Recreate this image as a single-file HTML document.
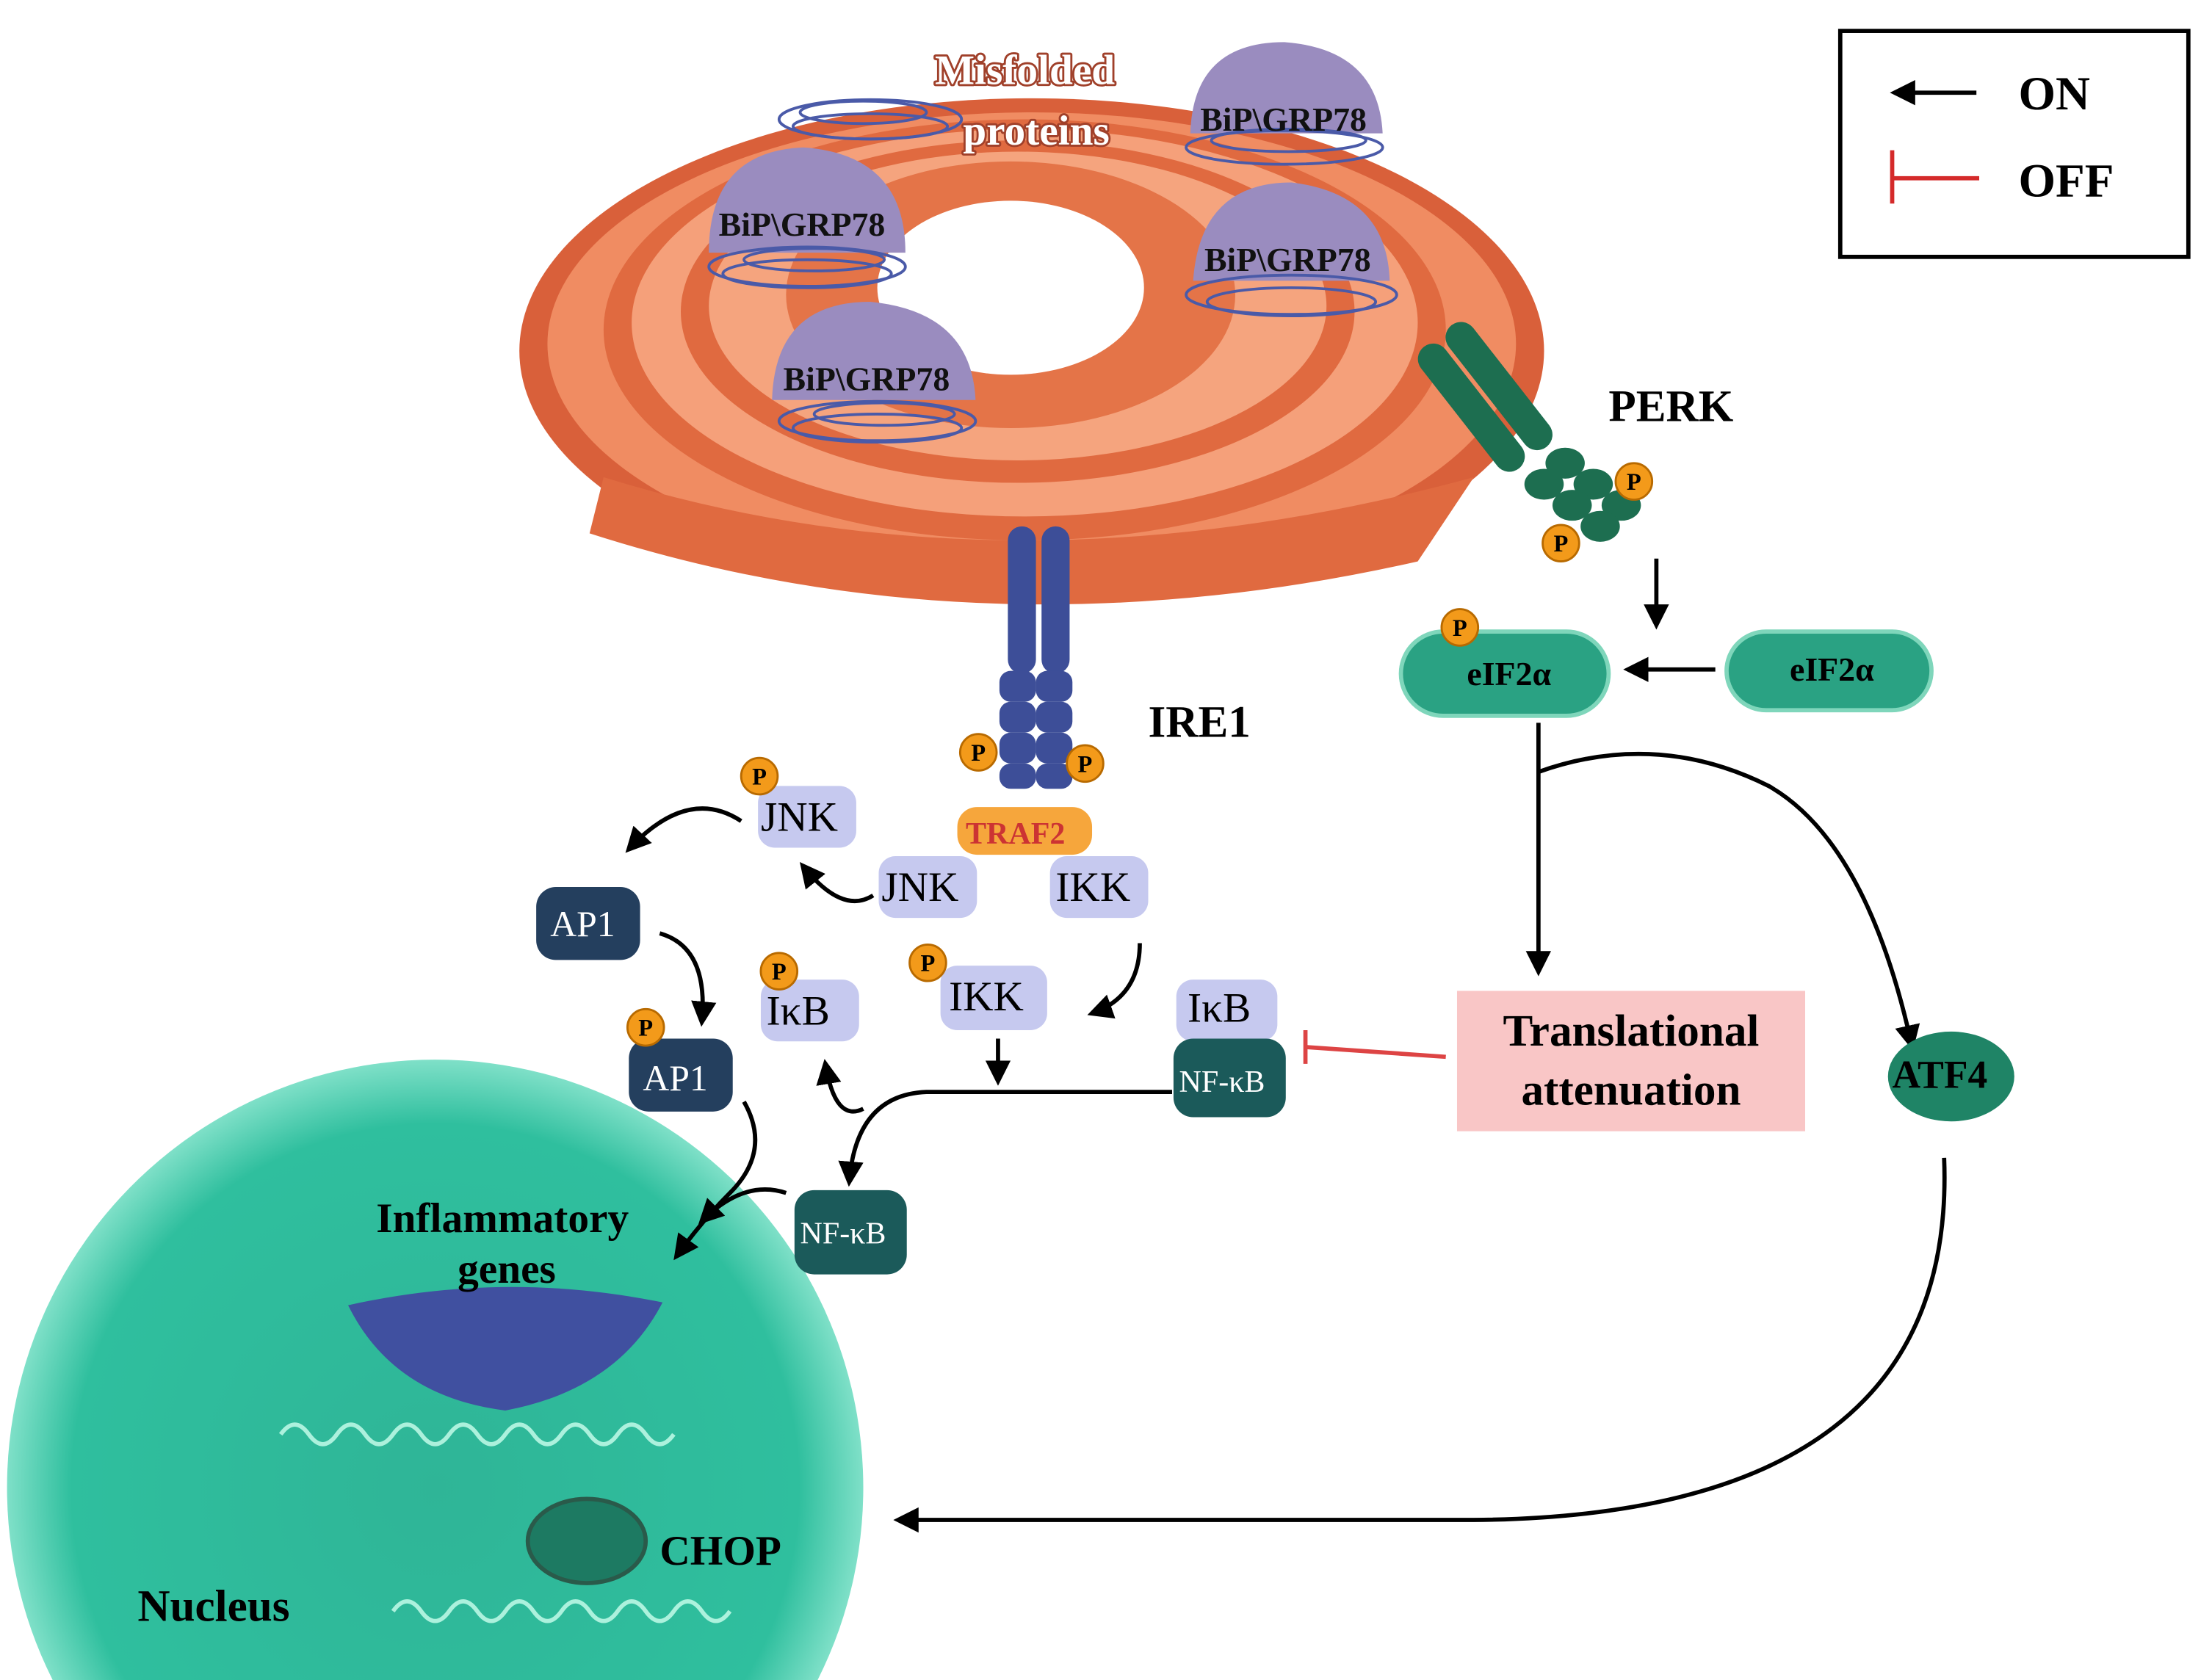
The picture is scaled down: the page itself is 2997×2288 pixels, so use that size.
<!DOCTYPE html>
<html><head><meta charset="utf-8"><style>
html,body{margin:0;padding:0;background:#fff;overflow:hidden;width:2997px;height:2288px;}
svg{display:block;overflow:hidden;}
text{font-family:"Liberation Serif",serif;}
</style></head><body>
<svg width="2997" height="2288" viewBox="0 0 1568 1197" overflow="hidden" xmlns="http://www.w3.org/2000/svg">
<defs>
<radialGradient id="nuc" gradientUnits="userSpaceOnUse" cx="310" cy="1060" r="305">
<stop offset="0%" stop-color="#2fb597"/><stop offset="85%" stop-color="#2fbf9e"/><stop offset="100%" stop-color="#7fe0c8"/>
</radialGradient>
<marker id="ah" viewBox="0 0 10 10" refX="8" refY="5" markerWidth="6" markerHeight="6" orient="auto"><path d="M0,0L10,5L0,10z" fill="#000"/></marker>
</defs>
<rect width="1568" height="1197" fill="#fff"/>

<!-- ER -->
<g>
<ellipse cx="735" cy="250" rx="365" ry="180" fill="#d9603a"/>
<ellipse cx="735" cy="245" rx="345" ry="165" fill="#f08c62"/>
<ellipse cx="730" cy="235" rx="300" ry="150" fill="#e06a40"/>
<ellipse cx="730" cy="230" rx="280" ry="138" fill="#f5a07a"/>
<ellipse cx="725" cy="222" rx="240" ry="122" fill="#e06a40"/>
<ellipse cx="725" cy="218" rx="220" ry="110" fill="#f5a47e"/>
<ellipse cx="720" cy="210" rx="160" ry="95" fill="#e47448"/>
<ellipse cx="720" cy="205" rx="95" ry="62" fill="#fff"/>
<path d="M420,380 Q700,470 1010,400 L1050,340 Q720,430 430,340z" fill="#e06a40"/>
</g>

<!-- BiP -->
<g>
<path d="M505,180 Q505,108 572,105 Q645,110 645,180z" fill="#9a8cbf"/>
<path d="M550,285 Q552,215 620,215 Q692,222 695,285z" fill="#9a8cbf"/>
<path d="M848,95 Q850,30 915,30 Q982,35 985,95z" fill="#9a8cbf"/>
<path d="M850,200 Q855,130 920,130 Q988,138 990,200z" fill="#9a8cbf"/>
</g>
<g fill="none" stroke="#4a5aa8" stroke-width="2">
<ellipse cx="575" cy="190" rx="70" ry="14"/><ellipse cx="575" cy="195" rx="60" ry="10"/><ellipse cx="580" cy="185" rx="50" ry="8"/>
<ellipse cx="625" cy="300" rx="70" ry="14"/><ellipse cx="625" cy="305" rx="60" ry="10"/><ellipse cx="630" cy="295" rx="50" ry="8"/>
<ellipse cx="915" cy="105" rx="70" ry="12"/><ellipse cx="918" cy="100" rx="55" ry="8"/>
<ellipse cx="920" cy="210" rx="75" ry="14"/><ellipse cx="920" cy="215" rx="60" ry="10"/>
<ellipse cx="620" cy="85" rx="65" ry="14"/><ellipse cx="620" cy="90" rx="55" ry="9"/><ellipse cx="615" cy="80" rx="45" ry="8"/>
</g>
<g font-weight="bold" font-size="24" fill="#111">
<text x="512" y="168">BiP\GRP78</text>
<text x="558" y="278">BiP\GRP78</text>
<text x="855" y="93">BiP\GRP78</text>
<text x="858" y="193">BiP\GRP78</text>
</g>
<g font-weight="bold" font-size="30" fill="#fff" stroke="#a0402a" stroke-width="3" paint-order="stroke" stroke-linejoin="round">
<text x="666" y="60">Misfolded</text><text x="686" y="103">proteins</text>
</g>

<!-- Legend -->
<rect x="1311" y="22" width="248" height="161" fill="#fff" stroke="#000" stroke-width="3"/>
<line x1="1408" y1="66" x2="1350" y2="66" stroke="#000" stroke-width="3" marker-end="url(#ah)"/>
<text x="1438" y="78" font-size="34" font-weight="bold">ON</text>
<line x1="1348" y1="127" x2="1410" y2="127" stroke="#d42a2a" stroke-width="3"/><line x1="1348" y1="107" x2="1348" y2="145" stroke="#d42a2a" stroke-width="3"/>
<text x="1438" y="140" font-size="34" font-weight="bold">OFF</text>

<!-- Nucleus -->
<path d="M37.5,1197 A305,305 0 1 1 582.5,1197 Z" fill="url(#nuc)"/>
<path d="M248,930 Q360,905 472,928 Q440,990 360,1005 Q280,995 248,930z" fill="#4050a0"/>
<g stroke="#cfe" stroke-width="3" fill="none" opacity="0.8">
<path d="M200,1022 q10,-14 20,0 t20,0 t20,0 t20,0 t20,0 t20,0 t20,0 t20,0 t20,0 t20,0 t20,0 t20,0 t20,0 t20,0"/>
<path d="M280,1148 q10,-14 20,0 t20,0 t20,0 t20,0 t20,0 t20,0 t20,0 t20,0 t20,0 t20,0 t20,0 t20,0"/>
</g>
<ellipse cx="418" cy="1098" rx="42" ry="30" fill="#1d7a62" stroke="#2a5a4a" stroke-width="3"/>
<text x="470" y="1115" font-size="30" font-weight="bold">CHOP</text>
<text x="98" y="1155" font-size="32" font-weight="bold">Nucleus</text>
<text x="268" y="878" font-size="30" font-weight="bold">Inflammatory</text>
<text x="326" y="914" font-size="30" font-weight="bold">genes</text>

<!-- IRE1 -->
<rect x="718" y="375" width="20" height="105" rx="10" fill="#3d4e98"/>
<rect x="742" y="375" width="20" height="105" rx="10" fill="#3d4e98"/>
<g fill="#3d4e98">
<rect x="712" y="478" width="26" height="22" rx="8"/><rect x="738" y="478" width="26" height="22" rx="8"/>
<rect x="712" y="500" width="26" height="22" rx="8"/><rect x="738" y="500" width="26" height="22" rx="8"/>
<rect x="712" y="522" width="26" height="22" rx="8"/><rect x="738" y="522" width="26" height="22" rx="8"/>
<rect x="712" y="544" width="26" height="18" rx="8"/><rect x="738" y="544" width="26" height="18" rx="8"/>
</g>
<text x="818" y="525" font-size="32" font-weight="bold">IRE1</text>
<rect x="682" y="575" width="96" height="34" rx="14" fill="#f6a63c"/>
<text x="688" y="601" font-size="22" font-weight="bold" fill="#c33">TRAF2</text>

<!-- PERK -->
<g transform="rotate(-38 1050 270)" fill="#1d6e50">
<rect x="1025" y="230" width="22" height="110" rx="11"/><rect x="1050" y="230" width="22" height="110" rx="11"/>
</g>
<g fill="#1d6e50">
<ellipse cx="1115" cy="330" rx="14" ry="11"/><ellipse cx="1135" cy="345" rx="14" ry="11"/><ellipse cx="1155" cy="360" rx="14" ry="11"/>
<ellipse cx="1100" cy="345" rx="14" ry="11"/><ellipse cx="1120" cy="360" rx="14" ry="11"/><ellipse cx="1140" cy="375" rx="14" ry="11"/>
</g>
<text x="1146" y="300" font-size="32" font-weight="bold">PERK</text>

<!-- eIF2a -->
<rect x="998" y="450" width="148" height="60" rx="30" fill="#2aa283" stroke="#7fd6bb" stroke-width="3"/>
<text x="1045" y="488" font-size="24" font-weight="bold">eIF2α</text>
<rect x="1230" y="450" width="146" height="56" rx="28" fill="#2aa283" stroke="#7fd6bb" stroke-width="3"/>
<text x="1275" y="485" font-size="24" font-weight="bold">eIF2α</text>

<!-- arrows PERK region -->
<g stroke="#000" stroke-width="3" fill="none" marker-end="url(#ah)">
<line x1="1180" y1="398" x2="1180" y2="445"/>
<line x1="1222" y1="477" x2="1160" y2="477"/>
<line x1="1096" y1="515" x2="1096" y2="692"/>
<path d="M1096,550 Q1180,520 1260,560 Q1330,600 1362,745"/>
<path d="M1385,825 Q1395,1080 1050,1083 L640,1083"/>
</g>

<!-- Translational attenuation -->
<rect x="1038" y="706" width="248" height="100" fill="#f9c6c6"/>
<text x="1162" y="745" font-size="32" font-weight="bold" text-anchor="middle">Translational</text>
<text x="1162" y="787" font-size="32" font-weight="bold" text-anchor="middle">attenuation</text>
<line x1="1030" y1="753" x2="930" y2="746" stroke="#d44" stroke-width="3"/>
<line x1="930" y1="734" x2="930" y2="758" stroke="#d44" stroke-width="3"/>

<!-- ATF4 -->
<ellipse cx="1390" cy="767" rx="45" ry="32" fill="#1f8466"/>
<text x="1348" y="775" font-size="28" font-weight="bold">ATF4</text>

<!-- protein boxes -->
<g font-size="30">
<rect x="540" y="560" width="70" height="44" rx="12" fill="#c6c9ef"/><text x="542" y="592">JNK</text>
<rect x="626" y="610" width="70" height="44" rx="12" fill="#c6c9ef"/><text x="628" y="642">JNK</text>
<rect x="748" y="610" width="70" height="44" rx="12" fill="#c6c9ef"/><text x="752" y="642">IKK</text>
<rect x="670" y="688" width="76" height="46" rx="12" fill="#c6c9ef"/><text x="676" y="720">IKK</text>
<rect x="542" y="698" width="70" height="44" rx="12" fill="#c6c9ef"/><text x="546" y="730">IκB</text>
<rect x="838" y="698" width="72" height="44" rx="12" fill="#c6c9ef"/><text x="846" y="728">IκB</text>
</g>
<g font-size="26" fill="#fff">
<rect x="382" y="632" width="74" height="52" rx="14" fill="#243f5e"/><text x="392" y="667">AP1</text>
<rect x="448" y="740" width="74" height="52" rx="14" fill="#243f5e"/><text x="458" y="777">AP1</text>
<rect x="836" y="740" width="80" height="56" rx="14" fill="#1b5a5a"/><text x="840" y="778" font-size="22">NF-κB</text>
<rect x="566" y="848" width="80" height="60" rx="14" fill="#1b5a5a"/><text x="570" y="886" font-size="22">NF-κB</text>
</g>

<!-- P circles -->
<g font-size="17" font-weight="bold" font-family="Liberation Sans,sans-serif">
<g fill="#f39a1a" stroke="#b86a00" stroke-width="1.5">
<circle cx="1164" cy="343" r="13"/><circle cx="1112" cy="387" r="13"/><circle cx="1040" cy="447" r="13"/>
<circle cx="697" cy="536" r="13"/><circle cx="773" cy="544" r="13"/><circle cx="541" cy="553" r="13"/>
<circle cx="555" cy="692" r="13"/><circle cx="661" cy="686" r="13"/><circle cx="460" cy="732" r="13"/>
</g>
<g text-anchor="middle">
<text x="1164" y="349">P</text><text x="1112" y="393">P</text><text x="1040" y="453">P</text>
<text x="697" y="542">P</text><text x="773" y="550">P</text><text x="541" y="559">P</text>
<text x="555" y="698">P</text><text x="661" y="692">P</text><text x="460" y="738">P</text>
</g></g>

<!-- IRE1 branch arrows -->
<g stroke="#000" stroke-width="3" fill="none" marker-end="url(#ah)">
<path d="M528,585 Q490,560 448,605"/>
<path d="M622,638 Q600,652 572,617"/>
<path d="M812,672 Q812,710 778,722"/>
<path d="M470,665 Q505,675 500,728"/>
<line x1="711" y1="740" x2="711" y2="770"/>
<path d="M835,778 L660,778 Q610,780 605,842"/>
<path d="M615,790 Q595,800 588,758"/>
<path d="M530,785 Q550,820 520,850 Q500,870 482,895"/>
<path d="M560,850 Q530,840 500,870"/>
</g>
</svg>
</body></html>
